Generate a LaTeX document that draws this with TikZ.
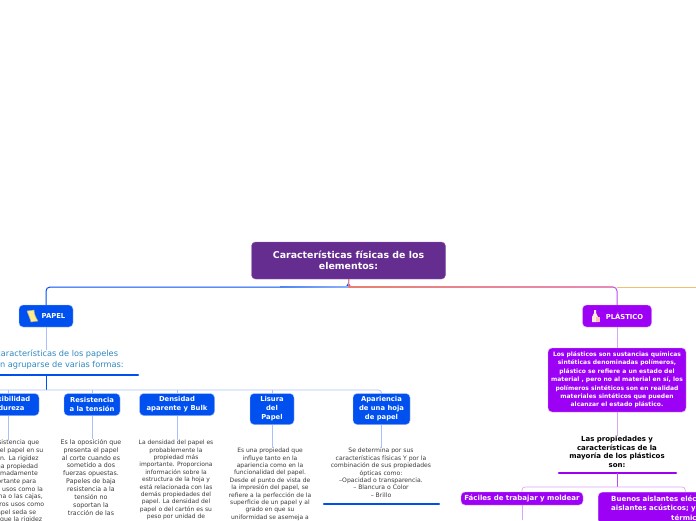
\documentclass[tikz,border=0pt]{standalone}
\usepackage{fontspec}
\setmainfont{DejaVu Sans}
\usetikzlibrary{arrows.meta}
\definecolor{rootc}{HTML}{662D91}
\definecolor{papelc}{HTML}{0050F0}
\definecolor{plastc}{HTML}{9C00F5}
\definecolor{linkb}{HTML}{A9C0FA}
\definecolor{linkp}{HTML}{D9A6FA}
\definecolor{tealc}{HTML}{2F86BE}
\definecolor{greyc}{HTML}{3A3A3A}
\definecolor{salmonc}{HTML}{E8806E}
\definecolor{pinkc}{HTML}{E88AB8}
\definecolor{goldc}{HTML}{F5BE6E}
\begin{document}
\begin{tikzpicture}[x=1pt, y=-1pt,
    root/.style = {draw=rootc!75, fill=rootc, rounded corners=4pt, text=white, font=\bfseries\fontsize{9.4}{11}\selectfont, align=center, inner sep=0pt},
    topic/.style = {draw=linkb, fill=papelc, rounded corners=4pt, text=white, font=\bfseries\fontsize{6.8}{9}\selectfont, align=center, inner sep=0pt},
    ptopic/.style = {draw=linkp, fill=plastc, rounded corners=4pt, text=white, font=\bfseries\fontsize{6.8}{9}\selectfont, align=center, inner sep=0pt},
    body/.style = {text=greyc, font=\fontsize{6}{7.4}\selectfont, align=center, inner sep=0pt, anchor=north},
    bar/.style = {line width=2.4pt, line cap=round},
    thin/.style = {line width=0.7pt}]
  \useasboundingbox (0,0) rectangle (696,520);
  \clip (0,0) rectangle (696,520);

  % main nodes
  \node[root, minimum width=194, minimum height=37] (elementos) at (348.5,260.5) {Características físicas de los\\elementos:};
  \node[topic, minimum width=54, minimum height=22] (papel) at (46,316) {\hspace*{15pt}PAPEL};
  \node[ptopic, minimum width=69, minimum height=22] (plastico) at (617,316) {\hspace*{15pt}PLÁSTICO};

  % papel branch
  \node[text=tealc, font=\fontsize{8.2}{11}\selectfont, align=center, inner sep=0pt] (formas) at (49,360) {Las características de los papeles\\pueden agruparse de varias formas:};
  \coordinate (formasbar) at (46,375);
  \node[topic, minimum width=62, minimum height=22] (dureza) at (8,404.5) {Flexibilidad\\y dureza};
  \node[topic, minimum width=56, minimum height=22] (tension) at (92,404.5) {Resistencia\\a la tensión};
  \node[topic, minimum width=75, minimum height=22] (densidad) at (177,404.5) {Densidad\\aparente y Bulk};
  \node[topic, minimum width=44, minimum height=31] (lisura) at (272,409) {Lisura\\del\\Papel};
  \node[topic, minimum width=57, minimum height=31] (apariencia) at (381.5,409) {Apariencia\\de una hoja\\de papel};

  \node[body, font=\fontsize{6.2}{7.7}\selectfont] (txtdureza) at (11,440) {La resistencia que\\opone el papel en su\\flexión. La rigidez\\es una propiedad\\extremadamente\\importante para\\ciertos usos como la\\cartulina o las cajas,\\y en otros usos como\\el papel seda se\\busca que la rigidez};
  \node[body, font=\fontsize{6.3}{7.9}\selectfont] (txttension) at (91,439) {Es la oposición que\\presenta el papel\\al corte cuando es\\sometido a dos\\fuerzas opuestas.\\Papeles de baja\\resistencia a la\\tensión no\\soportan la\\tracción de las};
  \node[body] (txtdensidad) at (176,440) {La densidad del papel es\\probablemente la\\propiedad más\\importante. Proporciona\\información sobre la\\estructura de la hoja y\\está relacionada con las\\demás propiedades del\\papel. La densidad del\\papel o del cartón es su\\peso por unidad de};
  \node[body] (txtlisura) at (270,448) {Es una propiedad que\\influye tanto en la\\apariencia como en la\\funcionalidad del papel.\\Desde el punto de vista de\\la impresión del papel, se\\refiere a la perfección de la\\superficie de un papel y al\\grado en que su\\uniformidad se asemeja a};
  \node[body, font=\fontsize{6.1}{7.4}\selectfont] (txtapariencia) at (381,448) {Se determina por sus\\características físicas Y por la\\combinación de sus propiedades\\ópticas como:\\--Opacidad o transparencia.\\-- Blancura o Color\\-- Brillo};

  % plastico branch
  \node[ptopic, font=\bfseries\fontsize{6}{8.4}\selectfont, minimum width=138, minimum height=64] (sustancias) at (617,380) {Los plásticos son sustancias químicas\\sintéticas denominadas polímeros,\\plástico se refiere a un estado del\\material , pero no al material en sí, los\\polímeros sintéticos son en realidad\\materiales sintéticos que pueden\\alcanzar el estado plástico.};
  \node[font=\bfseries\fontsize{7}{8.5}\selectfont, align=center, inner sep=0pt] (propiedades) at (617,452) {Las propiedades y\\características de la\\mayoría de los plásticos\\son:};
  \coordinate (propiedadesbar) at (617,473);
  \node[ptopic, font=\bfseries\fontsize{7}{9}\selectfont, minimum width=122, minimum height=13] (moldear) at (522,498.5) {Fáciles de trabajar y moldear};
  \node[ptopic, font=\bfseries\fontsize{7}{9.5}\selectfont, text width=174pt, align=left, minimum height=32, anchor=north west] (aislantes) at (598,492) {\hspace*{13pt}Buenos aislantes eléctricos;\\\hspace*{13pt}aislantes acústicos; y aislantes\\\hspace*{73pt}térmicos};

  % bars
  \draw[bar, papelc] (-10,375) -- (138,375);
  \draw[bar, papelc] (324,504) -- (439,504);
  \draw[bar, plastc] (559,473) -- (676,473);

  % connectors
  \draw[line width=1pt, color=papelc, rounded corners=4pt] (elementos.south) |- (46,287) -- (papel.north);
  \draw[line width=1pt, color=plastc!70, rounded corners=4pt] (elementos.south) |- (617,287) -- (plastico.north);
  \draw[line width=1pt, color=goldc] (plastico.north |- 0,287) -- (696,287);
  \shade[left color=papelc!70, right color=papelc!45] (280,286.5) rectangle (348.5,287.5);
  \shade[left color=salmonc, right color=pinkc] (348.5,286.5) rectangle (613,287.5);
  \draw[line width=1.2pt, color=salmonc] (elementos.south) -- (348.5,287.5);
  \draw[thin, color=linkb] (papel.south) -- (formas.north -| papel.south);
  \draw[thin, color=linkp] (plastico.south) -- (sustancias.north);
  \draw[thin, color=linkp] (sustancias.south) -- (propiedades.north);
  \draw[line width=1pt, color=papelc] (formasbar) -- (46,390);
  \draw[line width=0.8pt, color=linkb, rounded corners=3pt] (-20,390) -- (381.5,390) -- (apariencia.north);
  \foreach \n in {dureza, tension, densidad, lisura}
    \draw[thin, color=linkb] (\n.north) -- (\n.north |- 0,390);
  \foreach \n/\t in {dureza/txtdureza, tension/txttension, densidad/txtdensidad, lisura/txtlisura, apariencia/txtapariencia}
    \draw[thin, color=linkb] (\n.south) -- (\n.south |- \t.north);
  \draw[line width=1pt, color=plastc!70] (propiedadesbar) -- (617,487);
  \draw[thin, color=linkp, rounded corners=3pt] (moldear.north) |- (617,487) -| (aislantes.north);
  \draw[thin, color=linkp] (moldear.south) -- (moldear.south |- 0,520);

  % icons
  \fill[orange!35!yellow!45!white, draw=gray!70, line width=0.5pt] (27,311) -- (34,310) .. controls (34,314) and (36,318) .. (38,321) -- (31,322) .. controls (30,318) and (28,314) .. (27,311) -- cycle;
  \fill[white!85!orange] (594,310) -- (596,310) -- (596,313) -- (598,317) -- (598,322) -- (592,322) -- (592,317) -- (594,313) -- cycle;
  \fill[pink] (596,317) rectangle (600,322);
\end{tikzpicture}
\end{document}
